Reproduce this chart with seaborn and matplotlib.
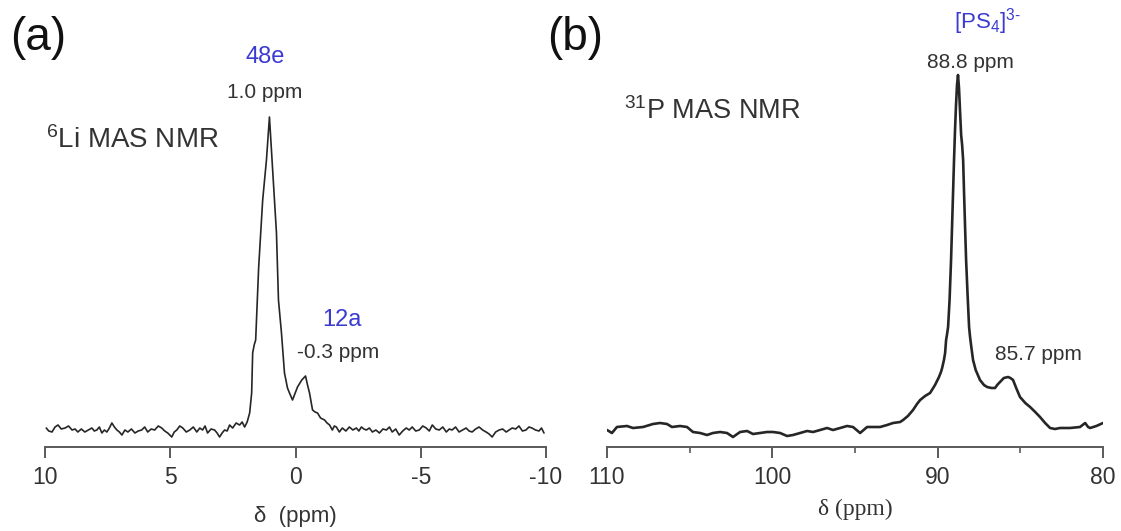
import numpy as np
import pandas as pd
import matplotlib
matplotlib.use("Agg")
import matplotlib.pyplot as plt
import seaborn as sns
from matplotlib.ticker import MultipleLocator

# ---------------- data ----------------
li_ppm = [9.95, 9.85, 9.72, 9.60, 9.48, 9.35, 9.20, 9.06, 8.92, 8.80, 8.69, 8.55, 8.41,
          8.27, 8.13, 8.03, 7.93, 7.83, 7.73, 7.63, 7.53, 7.43, 7.33, 7.23, 7.13, 7.03,
          6.93, 6.81, 6.69, 6.55, 6.41, 6.28, 6.14, 6.02, 5.90, 5.76, 5.62, 5.48, 5.34,
          5.22, 5.10, 4.94, 4.84, 4.74, 4.62, 4.50, 4.36, 4.22, 4.08, 3.94, 3.82, 3.71,
          3.61, 3.51, 3.37, 3.23, 3.13, 3.03, 2.93, 2.83, 2.73, 2.63, 2.51, 2.37, 2.23,
          2.13, 2.03, 1.93, 1.83, 1.75, 1.71, 1.65, 1.59, 1.47, 1.31, 1.16, 1.04, 0.92,
          0.76, 0.68, 0.56, 0.44, 0.32, 0.24, 0.12, -0.08, -0.25, -0.40, -0.48, -0.56,
          -0.68, -0.78, -0.88, -1.00, -1.16, -1.26, -1.36,
          -1.47, -1.55, -1.63, -1.75, -1.87, -2.01, -2.15, -2.29, -2.43, -2.53, -2.63,
          -2.73, -2.83, -2.95, -3.07, -3.21, -3.35, -3.49, -3.63, -3.75, -3.86, -4.00,
          -4.14, -4.28, -4.42, -4.54, -4.66, -4.80, -4.94, -5.08, -5.22, -5.34, -5.46,
          -5.60, -5.74, -5.88, -6.02, -6.14, -6.25, -6.39, -6.53, -6.67, -6.81, -6.93,
          -7.05, -7.19, -7.33, -7.47, -7.61, -7.73, -7.85, -7.99, -8.13, -8.27, -8.41,
          -8.53, -8.65, -8.79, -8.92, -9.06, -9.20, -9.32, -9.44, -9.58, -9.72, -9.82,
          -9.92]
li_int = [12, 9, 8, 13, 15, 11, 12, 14, 10, 11, 8, 11, 8,
          10, 12, 9, 10, 13, 7, 10, 8, 12, 17, 13, 10, 8,
          5, 10, 8, 11, 7, 9, 10, 13, 8, 11, 10, 14, 12,
          9, 7, 3, 8, 10, 14, 12, 8, 10, 13, 8, 12, 10,
          14, 7, 11, 10, 7, 3, 7, 10, 9, 15, 12, 17, 15,
          18, 13, 18, 27, 47, 87, 95, 100, 173, 240, 280, 323, 273,
          207, 140, 107, 67, 52, 47, 40, 53, 60, 64, 55, 47,
          30, 28, 27, 22, 20, 17, 15,
          10, 14, 13, 8, 12, 9, 13, 10, 12, 9, 13,
          11, 10, 12, 8, 10, 7, 11, 10, 13, 8, 11,
          5, 9, 12, 10, 13, 9, 10, 14, 12, 9, 15,
          11, 10, 13, 8, 11, 10, 13, 8, 10, 12, 9,
          8, 11, 13, 10, 8, 6, 3, 8, 10, 11, 8,
          10, 12, 11, 14, 9, 10, 13, 12, 10, 9, 12,
          7]

p_ppm = [110.0, 109.70, 109.40, 108.79, 108.43, 107.82, 107.22, 106.79, 106.37, 106.07,
         105.58, 105.16, 104.80, 104.37, 103.95, 103.59, 103.16, 102.74, 102.38, 101.95,
         101.53, 101.17, 100.74, 100.32, 99.96, 99.53, 99.11, 98.75, 98.32, 97.90, 97.54,
         97.11, 96.69, 96.33, 95.90, 95.48, 95.12, 94.69, 94.27, 93.91, 93.48, 93.06,
         92.70, 92.27, 92.09, 91.80, 91.49, 91.25, 91.06, 90.76, 90.46, 90.16, 89.92,
         89.80, 89.73, 89.62, 89.55, 89.49, 89.43, 89.37, 89.28, 89.19, 89.10, 89.01,
         88.95, 88.89, 88.83, 88.77, 88.71, 88.65, 88.58, 88.52, 88.46, 88.40, 88.34,
         88.28, 88.19, 88.10, 88.04, 87.98, 87.86, 87.70, 87.44, 87.20, 87.01, 86.75,
         86.53, 86.40, 86.23, 86.00, 85.74, 85.60, 85.44, 85.25, 85.02, 84.70, 84.41,
         84.10, 83.81, 83.50, 83.20, 82.90, 82.60, 82.00, 81.39, 81.08, 80.90, 80.78,
         80.40, 80.0]
p_int = [10, 7, 13, 14, 12, 13, 16, 17, 16, 13,
         14, 13, 8, 7, 5, 7, 8, 7, 3, 8,
         9, 6, 7, 8, 8, 7, 4, 5, 7, 9, 8,
         10, 12, 10, 12, 14, 13, 7, 13, 13, 13, 15,
         17, 18, 20, 24, 30, 36, 40, 44, 47, 55, 63,
         68, 72, 80, 87, 100, 106, 113, 140, 180, 230, 280,
         310, 335, 355, 365, 352, 330, 305, 295, 280, 245, 212,
         180, 145, 113, 103, 95, 80, 70, 60, 55, 53, 52,
         52, 55, 58, 62, 63, 62, 60, 52, 43, 37, 33,
         28, 23, 17, 12, 11, 12, 12, 13, 17, 13, 12,
         14, 17]

li_peaks = {"48e": (1.04, 323, "1.0 ppm"), "12a": (-0.40, 64, "-0.3 ppm")}
p_peaks = {"main": (88.77, 365, "88.8 ppm"), "side": (85.74, 63, "85.7 ppm")}

li_ticks = [10, 5, 0, -5, -10]
li_ticklabels = ["10", "5", "0", "-5", "-10"]
p_ticks = [110, 100, 90, 80]
p_ticklabels = ["110", "100", "90", "80"]

li_df = pd.DataFrame({"ppm": li_ppm, "intensity": li_int})
p_df = pd.DataFrame({"ppm": p_ppm, "intensity": p_int})

# ---------------- style ----------------
sns.set_style("white")
plt.rcParams["font.family"] = ["Liberation Sans", "DejaVu Sans"]
plt.rcParams["mathtext.fontset"] = "custom"
plt.rcParams["mathtext.rm"] = "Liberation Sans"
plt.rcParams["mathtext.it"] = "Liberation Sans:italic"
plt.rcParams["mathtext.bf"] = "Liberation Sans:bold"

TXT = "#333333"
BLUE = "#3b3bd2"
LINE = "#262626"
SPINE = "#5a5a5a"

W, H = 1121, 531
fig = plt.figure(figsize=(W / 100, H / 100), dpi=100)

bottom = (H - 447) / H
height = 400 / H
ax_a = fig.add_axes([45 / W, bottom, (546 - 45) / W, height])
ax_b = fig.add_axes([607 / W, bottom, (1103 - 607) / W, height])

sns.lineplot(data=li_df, x="ppm", y="intensity", ax=ax_a, color=LINE,
             linewidth=1.2, estimator=None)
sns.lineplot(data=p_df, x="ppm", y="intensity", ax=ax_b, color=LINE,
             linewidth=1.9, estimator=None)

for ax in (ax_a, ax_b):
    ax.set_ylim(-7, 393)
    ax.set_yticks([])
    ax.set_ylabel("")
    for s in ("left", "right", "top"):
        ax.spines[s].set_visible(False)
    ax.spines["bottom"].set_color(SPINE)
    ax.spines["bottom"].set_linewidth(1.4)
    ax.tick_params(axis="x", which="major", direction="out", length=8, width=1.4,
                   color=SPINE, labelsize=16.5, labelcolor=TXT, pad=6, bottom=True)
    ax.tick_params(axis="x", which="minor", direction="out", length=4.5, width=1.2,
                   color=SPINE, bottom=True)
    ax.patch.set_alpha(0)

ax_a.set_xlim(10, -10)
ax_a.set_xticks(li_ticks)
ax_a.set_xticklabels(li_ticklabels)
ax_a.set_xlabel("δ  (ppm)", fontsize=16, color=TXT, labelpad=12)

ax_b.set_xlim(110, 80)
ax_b.set_xticks(p_ticks)
ax_b.set_xticklabels(p_ticklabels)
ax_b.xaxis.set_minor_locator(MultipleLocator(5))
ax_b.set_xlabel("δ (ppm)", fontsize=17, color=TXT, labelpad=7,
                family=["Liberation Serif", "DejaVu Serif"])

# panel letters
fig.text(10 / W, 1 - 38 / H, "(a)", fontsize=33, color="#111111", ha="left", va="center")
fig.text(547 / W, 1 - 38 / H, "(b)", fontsize=33, color="#111111", ha="left", va="center")

# panel (a) annotations
x, y, lab = li_peaks["48e"]
ax_a.text(x + 0.18, y + 60, "48e", color=BLUE, fontsize=17, ha="center", va="center")
ax_a.text(x + 0.18, y + 24, lab, color=TXT, fontsize=15, ha="center", va="center")
x, y, lab = li_peaks["12a"]
ax_a.text(x - 1.45, y + 56, "12a", color=BLUE, fontsize=17, ha="center", va="center")
ax_a.text(x - 1.31, y + 24, lab, color=TXT, fontsize=15, ha="center", va="center")
ax_a.text(9.95, 300, "$^{6}$Li MAS NMR", color=TXT, fontsize=20, ha="left", va="center")

# panel (b) annotations
x, y, lab = p_peaks["main"]
ax_b.text(x - 1.8, y + 53, "[PS$_4$]$^{3\u2010}$", color=BLUE, fontsize=16,
          ha="center", va="center")
ax_b.text(x - 0.77, y + 13, lab, color=TXT, fontsize=15, ha="center", va="center")
x, y, lab = p_peaks["side"]
ax_b.text(x - 1.84, y + 22, lab, color=TXT, fontsize=15, ha="center", va="center")
ax_b.text(109.0, 329, "$^{31}$P MAS NMR", color=TXT, fontsize=19.5, ha="left", va="center")

fig.savefig("out.png", dpi=100)
